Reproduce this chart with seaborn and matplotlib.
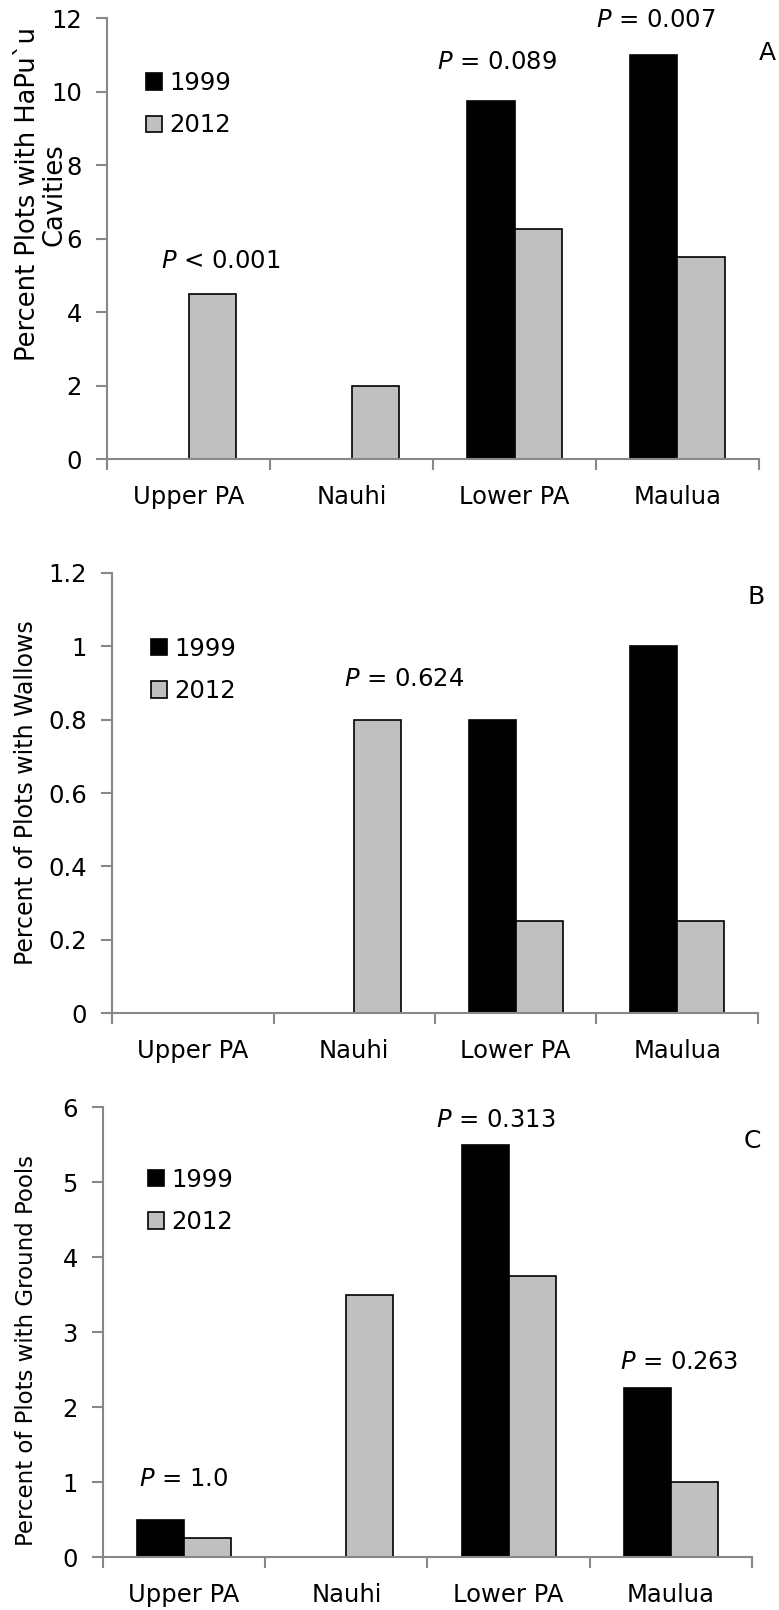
import pandas as pd
import numpy as np
import seaborn as sns
import matplotlib.pyplot as plt
from matplotlib.ticker import FuncFormatter, FixedLocator

# 各樣區與年份
sites = ['Upper PA', 'Nauhi', 'Lower PA', 'Maulua']
years = ['1999', '2012']

# A: HaPu`u cavities
cav_1999 = [0, 0, 9.75, 11.0]
cav_2012 = [4.5, 2.0, 6.25, 5.5]
# B: wallows
wal_1999 = [0, 0, 0.8, 1.0]
wal_2012 = [0, 0.8, 0.25, 0.25]
# C: ground pools
pool_1999 = [0.5, 0, 5.5, 2.25]
pool_2012 = [0.25, 3.5, 3.75, 1.0]

p_text_A = ['$\\it{P}$ < 0.001', '$\\it{P}$ = 0.089', '$\\it{P}$ = 0.007']
p_text_B = ['$\\it{P}$ = 0.624']
p_text_C = ['$\\it{P}$ = 1.0', '$\\it{P}$ = 0.313', '$\\it{P}$ = 0.263']

plt.rcParams['font.family'] = ['DejaVu Sans']
palette = {'1999': 'black', '2012': '#C0C0C0'}
spine_c = '#888888'
FS = 17.5

fig = plt.figure(figsize=(7.79, 16.10), dpi=100)
axA = fig.add_axes([0.1374, 0.7149, 0.8369, 0.2739])
axB = fig.add_axes([0.1438, 0.3708, 0.8292, 0.2733])
axC = fig.add_axes([0.1322, 0.0329, 0.8331, 0.2795])


def long_df(v99, v12):
    return pd.DataFrame({'site': sites * 2,
                         'year': ['1999'] * 4 + ['2012'] * 4,
                         'value': v99 + v12})


def draw(ax, v99, v12, ymax, step, ylabel, ylabel_fs, leg_xy):
    sns.barplot(data=long_df(v99, v12), x='site', y='value', hue='year',
                hue_order=years, order=sites, palette=palette,
                edgecolor='black', linewidth=1.2, width=0.58, ax=ax,
                errorbar=None, saturation=1)
    ax.set_xlim(-0.5, 3.5)
    ax.set_ylim(0, ymax)
    ax.set_yticks(np.arange(0, ymax + step / 2, step))
    ax.yaxis.set_major_formatter(FuncFormatter(lambda v, p: '%g' % round(v, 2)))
    ax.xaxis.set_minor_locator(FixedLocator([-0.5, 0.5, 1.5, 2.5, 3.5]))
    ax.tick_params(axis='x', which='major', length=0, labelsize=FS, pad=19)
    ax.tick_params(axis='x', which='minor', length=8, width=1.5, color=spine_c)
    ax.tick_params(axis='y', length=8, width=1.5, color=spine_c, labelsize=FS, pad=10)
    for s in ['top', 'right']:
        ax.spines[s].set_visible(False)
    for s in ['left', 'bottom']:
        ax.spines[s].set_color(spine_c)
        ax.spines[s].set_linewidth(1.5)
    ax.set_xlabel('')
    ax.set_ylabel(ylabel, fontsize=ylabel_fs, linespacing=1.05)
    h, l = ax.get_legend_handles_labels()
    ax.legend(h, l, loc='upper left', bbox_to_anchor=leg_xy, frameon=False,
              fontsize=FS, handlelength=0.65, handleheight=0.65, handletextpad=0.3,
              labelspacing=0.75, borderpad=0, borderaxespad=0)


draw(axA, cav_1999, cav_2012, 12, 2, 'Percent Plots with HaPu`u\nCavities', 18.5, (0.06, 0.88))
axA.yaxis.set_label_coords(-0.06, 0.6)
for t, (x, y) in zip(p_text_A, [(0.2, 5.4), (1.89, 10.8), (2.87, 11.95)]):
    axA.text(x, y, t, ha='center', va='center', fontsize=FS, clip_on=False)
axA.text(3.55, 11.05, 'A', ha='center', va='center', fontsize=18, clip_on=False)

draw(axB, wal_1999, wal_2012, 1.2, 0.2, 'Percent of Plots with Wallows', 17, (0.06, 0.855))
axB.yaxis.set_label_coords(-0.115, 0.502)
axB.text(1.31, 0.911, p_text_B[0], ha='center', va='center', fontsize=FS)
axB.text(3.49, 1.135, 'B', ha='center', va='center', fontsize=18, clip_on=False)

draw(axC, pool_1999, pool_2012, 6, 1, 'Percent of Plots with Ground Pools', 16.5, (0.07, 0.865))
axC.yaxis.set_label_coords(-0.1, 0.46)
for t, (x, y) in zip(p_text_C, [(0.0, 1.04), (1.92, 5.83), (3.05, 2.6)]):
    axC.text(x, y, t, ha='center', va='center', fontsize=FS, clip_on=False)
axC.text(3.5, 5.55, 'C', ha='center', va='center', fontsize=18, clip_on=False)

fig.savefig('out.png', dpi=100)
